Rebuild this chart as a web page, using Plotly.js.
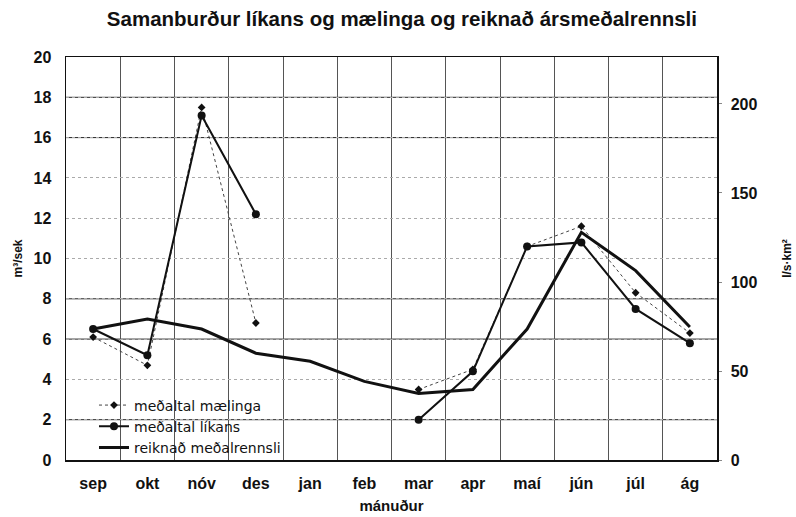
<!DOCTYPE html>
<html>
<head>
<meta charset="utf-8">
<script src="https://cdn.plot.ly/plotly-3.0.1.min.js"></script>
<style>html,body{margin:0;padding:0;background:#fff;}#chart{width:796px;height:517px;}</style>
</head>
<body>
<div id="chart"></div>
<script>
const months = ["sep","okt","nóv","des","jan","feb","mar","apr","maí","jún","júl","ág"];
const maelingar = [6.1, 4.7, 17.5, 6.8, null, null, 3.5, 4.5, 10.6, 11.6, 8.3, 6.3];
const likan = [6.5, 5.2, 17.1, 12.2, null, null, 2.0, 4.4, 10.6, 10.8, 7.5, 5.8];
const reiknad = [6.5, 7.0, 6.5, 5.3, 4.9, 3.9, 3.3, 3.5, 6.5, 11.3, 9.4, 6.6];
const rightTicks = [0, 50, 100, 150, 200];
const solidGrid = [2, 6, 8, 16, 18];

const font = "Liberation Sans, Arial, sans-serif";
const legendFont = "DejaVu Sans, sans-serif";

const traces = [
  {x: months, y: maelingar, name: "meðaltal mælinga", type: "scatter", mode: "lines+markers",
   line: {color: "#444", width: 1, dash: "dot"}, marker: {symbol: "diamond", size: 6, color: "#111"}, connectgaps: false},
  {x: months, y: likan, name: "meðaltal líkans", type: "scatter", mode: "lines+markers",
   line: {color: "#111", width: 2}, marker: {symbol: "circle", size: 8, color: "#111"}, connectgaps: false},
  {x: months, y: reiknad, name: "reiknað meðalrennsli", type: "scatter", mode: "lines",
   line: {color: "#111", width: 3}},
  {x: months, y: months.map(() => null), yaxis: "y2", type: "scatter", mode: "lines", showlegend: false, hoverinfo: "skip"}
];

const shapes = solidGrid.map(v => ({type: "line", xref: "paper", x0: 0, x1: 1, yref: "y", y0: v, y1: v,
  line: {color: "#222", width: 1}, layer: "below"}));

const layout = {
  width: 796, height: 517,
  margin: {l: 66, r: 79, t: 57, b: 57},
  paper_bgcolor: "#fff", plot_bgcolor: "#fff",
  font: {family: font, color: "#111", size: 13},
  title: {text: "<b>Samanburður líkans og mælinga og reiknað ársmeðalrennsli</b>", xref: "paper", x: 0.516, xanchor: "center", y: 0.963, yanchor: "middle",
    font: {family: font, size: 20.5, color: "#111"}},
  xaxis: {type: "category", range: [-0.5, 11.5], tickson: "boundaries", showgrid: true, gridcolor: "#555", gridwidth: 1,
    showline: true, linecolor: "#111", linewidth: 1.5, mirror: true, ticks: "", ticklen: 0, ticklabelstandoff: 8,
    tickfont: {family: font, size: 16, color: "#111", weight: "bold"},
    title: {text: "<b>mánuður</b>", font: {family: font, size: 15, color: "#111"}, standoff: 10}},
  yaxis: {range: [0, 20], dtick: 2, showgrid: true, gridcolor: "#aaa", griddash: "dot", gridwidth: 1,
    showline: true, linecolor: "#111", linewidth: 1.5, ticks: "", zeroline: false, ticklabelstandoff: 10,
    tickfont: {family: font, size: 16, color: "#111", weight: "bold"},
    title: {text: "<b>m³/sek</b>", font: {family: font, size: 12, color: "#111"}, standoff: 8}},
  yaxis2: {overlaying: "y", side: "right", range: [0, 226.4], tickvals: rightTicks, showgrid: false, zeroline: false,
    showline: true, linecolor: "#111", linewidth: 1.5, ticks: "outside", ticklen: 3, tickcolor: "#888", ticklabelstandoff: 6,
    tickfont: {family: font, size: 16, color: "#111", weight: "bold"},
    title: {text: "<b>l/s·km²</b>", font: {family: font, size: 12, color: "#111"}, standoff: 26}},
  legend: {x: 0.043, y: 0.175, xanchor: "left", yanchor: "top", bgcolor: "rgba(255,255,255,0)", borderwidth: 0,
    font: {family: legendFont, size: 14, color: "#111"}, tracegroupgap: 0},
  shapes: shapes,
  showlegend: true
};

Plotly.newPlot("chart", traces, layout, {displayModeBar: false, staticPlot: true});
</script>
</body>
</html>
